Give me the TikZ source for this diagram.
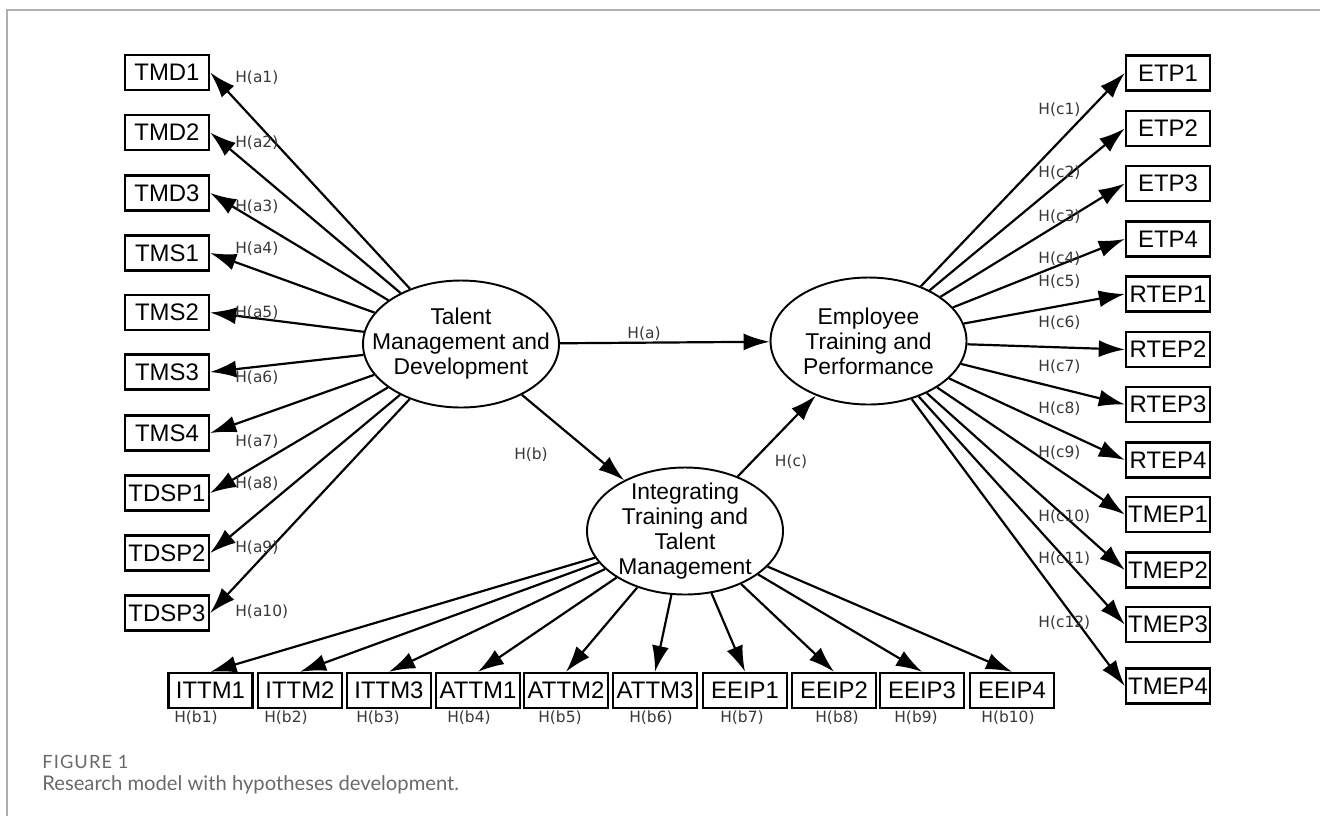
\documentclass[tikz,border=0pt]{standalone}
\usepackage{fontspec}
\setmainfont{Liberation Sans}
\newfontfamily\labfont{DejaVu Sans}
\newfontfamily\capfont{Lato}
\newfontfamily\capnofont[LetterSpace=6]{Lato}
\usetikzlibrary{arrows.meta, shapes.geometric}

\definecolor{labgray}{RGB}{55,55,55}
\definecolor{framegray}{RGB}{175,175,175}
\definecolor{capgray}{RGB}{105,105,105}

\tikzset{
	ind/.style={draw, line width=1.4pt, minimum width=16.8mm, minimum height=7mm, inner sep=0pt, font=\fontsize{13.6}{15}\selectfont},
	latent/.style={ellipse, draw, line width=1.1pt, minimum width=39.2mm, minimum height=25.4mm, inner sep=0pt, align=center, font=\fontsize{13}{14.2}\selectfont},
	hlab/.style={font=\labfont\fontsize{8.8}{10}\selectfont, text=labgray, inner sep=0pt},
	hyp/.style={-{Latex[length=5.2mm, width=3.4mm]}, line width=1.25pt},
	captext/.style={text=capgray, inner sep=0pt, anchor=west}
}

\begin{document}
\begin{tikzpicture}[x=0.2mm, y=-0.2mm]
	\useasboundingbox (0, 0) rectangle (1320, 816);
	\draw[framegray, line width=0.8pt] (7, 816) -- (7, 10) -- (1320, 10);

	\node at (461, 344) [latent, inner xsep=-15pt] (tmd) {Talent\\Management and\\Development};
	\node at (868.5, 341) [latent] (etp) {Employee\\Training and\\Performance};
	\node at (685, 531) [latent, inner ysep=-3pt] (ittm) {Integrating\\Training and\\Talent\\Management};

	\node at (167, 72.5) [ind] (tmd1) {TMD1};
	\node at (167, 132.5) [ind] (tmd2) {TMD2};
	\node at (167, 193) [ind] (tmd3) {TMD3};
	\node at (167, 253) [ind] (tms1) {TMS1};
	\node at (167, 312.5) [ind] (tms2) {TMS2};
	\node at (167, 372) [ind] (tms3) {TMS3};
	\node at (167, 433) [ind] (tms4) {TMS4};
	\node at (167, 493) [ind] (tdsp1) {TDSP1};
	\node at (167, 553) [ind] (tdsp2) {TDSP2};
	\node at (167, 613) [ind] (tdsp3) {TDSP3};

	\node at (1168, 73) [ind] (etp1) {ETP1};
	\node at (1168, 128.5) [ind] (etp2) {ETP2};
	\node at (1168, 183.5) [ind] (etp3) {ETP3};
	\node at (1168, 239) [ind] (etp4) {ETP4};
	\node at (1168, 294) [ind] (rtep1) {RTEP1};
	\node at (1168, 349.5) [ind] (rtep2) {RTEP2};
	\node at (1168, 404.5) [ind] (rtep3) {RTEP3};
	\node at (1168, 460) [ind] (rtep4) {RTEP4};
	\node at (1168, 514.5) [ind] (tmep1) {TMEP1};
	\node at (1168, 570) [ind] (tmep2) {TMEP2};
	\node at (1168, 624.5) [ind] (tmep3) {TMEP3};
	\node at (1168, 686) [ind] (tmep4) {TMEP4};

	\node at (210.5, 690.5) [ind] (ittm1) {ITTM1};
	\node at (300, 690.5) [ind] (ittm2) {ITTM2};
	\node at (389, 690.5) [ind] (ittm3) {ITTM3};
	\node at (478, 690.5) [ind] (attm1) {ATTM1};
	\node at (566, 690.5) [ind] (attm2) {ATTM2};
	\node at (655, 690.5) [ind] (attm3) {ATTM3};
	\node at (745, 690.5) [ind] (eeip1) {EEIP1};
	\node at (834, 690.5) [ind] (eeip2) {EEIP2};
	\node at (922, 690.5) [ind] (eeip3) {EEIP3};
	\node at (1012, 690.5) [ind] (eeip4) {EEIP4};

	\draw[hyp] (tmd) -- (etp);
	\draw[hyp] (tmd) -- (ittm);
	\draw[hyp] (ittm) -- (etp);

	\draw[hyp] (tmd) -- (tmd1.east);
	\draw[hyp] (tmd) -- (tmd2.east);
	\draw[hyp] (tmd) -- (tmd3.east);
	\draw[hyp] (tmd) -- (tms1.east);
	\draw[hyp] (tmd) -- (tms2.east);
	\draw[hyp] (tmd) -- (tms3.east);
	\draw[hyp] (tmd) -- (tms4.east);
	\draw[hyp] (tmd) -- (tdsp1.east);
	\draw[hyp] (tmd) -- (tdsp2.east);
	\draw[hyp] (tmd) -- (tdsp3.east);

	\draw[hyp] (etp) -- (etp1.west);
	\draw[hyp] (etp) -- (etp2.west);
	\draw[hyp] (etp) -- (etp3.west);
	\draw[hyp] (etp) -- (etp4.west);
	\draw[hyp] (etp) -- (rtep1.west);
	\draw[hyp] (etp) -- (rtep2.west);
	\draw[hyp] (etp) -- (rtep3.west);
	\draw[hyp] (etp) -- (rtep4.west);
	\draw[hyp] (etp) -- (tmep1.west);
	\draw[hyp] (etp) -- (tmep2.west);
	\draw[hyp] (etp) -- (tmep3.west);
	\draw[hyp] (etp) -- (tmep4.west);

	\draw[hyp] (ittm) -- (ittm1.north);
	\draw[hyp] (ittm) -- (ittm2.north);
	\draw[hyp] (ittm) -- (ittm3.north);
	\draw[hyp] (ittm) -- (attm1.north);
	\draw[hyp] (ittm) -- (attm2.north);
	\draw[hyp] (ittm) -- (attm3.north);
	\draw[hyp] (ittm) -- (eeip1.north);
	\draw[hyp] (ittm) -- (eeip2.north);
	\draw[hyp] (ittm) -- (eeip3.north);
	\draw[hyp] (ittm) -- (eeip4.north);

	\node at (644, 334) [hlab] (ha) {H(a)};
	\node at (531, 455) [hlab] (hb) {H(b)};
	\node at (791, 462) [hlab] (hc) {H(c)};

	\node at (235, 78) [hlab, anchor=west] (ha1) {H(a1)};
	\node at (235, 143) [hlab, anchor=west] (ha2) {H(a2)};
	\node at (235, 207) [hlab, anchor=west] (ha3) {H(a3)};
	\node at (235, 249) [hlab, anchor=west] (ha4) {H(a4)};
	\node at (235, 313) [hlab, anchor=west] (ha5) {H(a5)};
	\node at (235, 378) [hlab, anchor=west] (ha6) {H(a6)};
	\node at (235, 442) [hlab, anchor=west] (ha7) {H(a7)};
	\node at (235, 484) [hlab, anchor=west] (ha8) {H(a8)};
	\node at (235, 548) [hlab, anchor=west] (ha9) {H(a9)};
	\node at (235, 612) [hlab, anchor=west] (ha10) {H(a10)};

	\node at (1038, 110) [hlab, anchor=west] (hc1) {H(c1)};
	\node at (1038, 173) [hlab, anchor=west] (hc2) {H(c2)};
	\node at (1038, 217) [hlab, anchor=west] (hc3) {H(c3)};
	\node at (1038, 259) [hlab, anchor=west] (hc4) {H(c4)};
	\node at (1038, 282) [hlab, anchor=west] (hc5) {H(c5)};
	\node at (1038, 323) [hlab, anchor=west] (hc6) {H(c6)};
	\node at (1038, 367) [hlab, anchor=west] (hc7) {H(c7)};
	\node at (1038, 409) [hlab, anchor=west] (hc8) {H(c8)};
	\node at (1038, 453) [hlab, anchor=west] (hc9) {H(c9)};
	\node at (1038, 517) [hlab, anchor=west] (hc10) {H(c10)};
	\node at (1038, 559) [hlab, anchor=west] (hc11) {H(c11)};
	\node at (1038, 623) [hlab, anchor=west] (hc12) {H(c12)};

	\node at (196, 718) [hlab] (hb1) {H(b1)};
	\node at (286, 718) [hlab] (hb2) {H(b2)};
	\node at (378, 718) [hlab] (hb3) {H(b3)};
	\node at (469, 718) [hlab] (hb4) {H(b4)};
	\node at (560, 718) [hlab] (hb5) {H(b5)};
	\node at (651, 718) [hlab] (hb6) {H(b6)};
	\node at (742, 718) [hlab] (hb7) {H(b7)};
	\node at (837, 718) [hlab] (hb8) {H(b8)};
	\node at (916, 718) [hlab] (hb9) {H(b9)};
	\node at (1008, 718) [hlab] (hb10) {H(b10)};

	\node at (42, 762) [captext, font=\capnofont\fontsize{10.4}{12}\selectfont] (figno) {FIGURE 1};
	\node at (42, 785) [captext, font=\capfont\fontsize{11.5}{13}\selectfont] (figcap) {Research model with hypotheses development.};
\end{tikzpicture}
\end{document}
